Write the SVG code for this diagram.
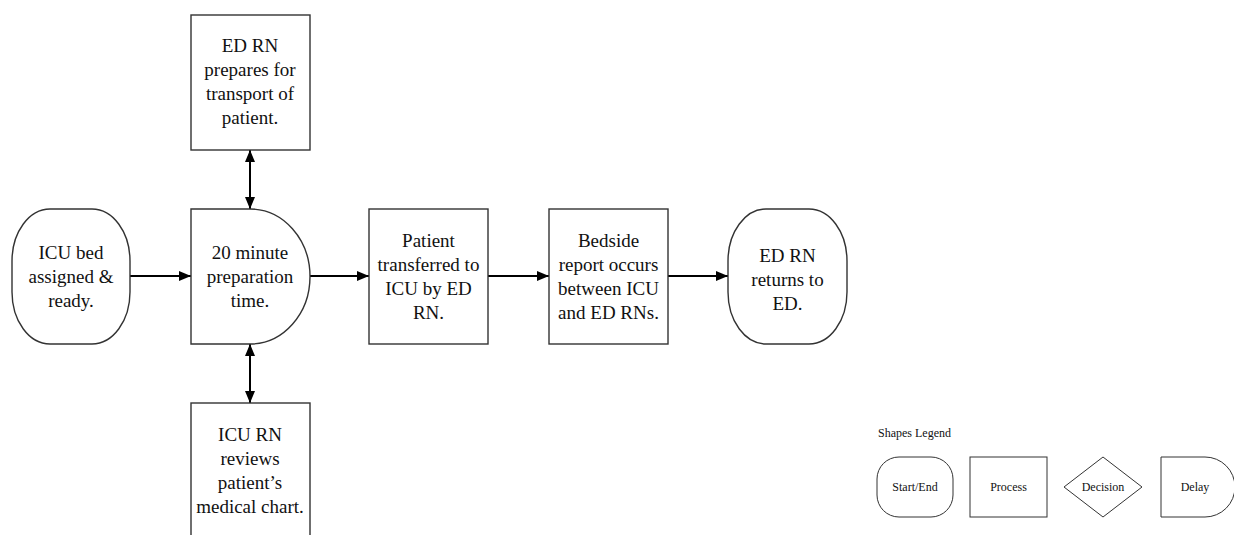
<svg xmlns="http://www.w3.org/2000/svg" width="1234" height="535" viewBox="0 0 1234 535">
<style>
.n{fill:#fff;stroke:#333;stroke-width:1.4}
.t{font-family:'Liberation Serif','DejaVu Serif',serif;font-size:19px;fill:#111;text-anchor:middle}
.s{font-family:'Liberation Serif','DejaVu Serif',serif;font-size:12px;fill:#111;text-anchor:middle}
.c{stroke:#000;stroke-width:2;fill:none}
</style>
<defs>
<marker id="ah" markerWidth="12" markerHeight="10" refX="12" refY="5" orient="auto" markerUnits="userSpaceOnUse"><path d="M0,0 L12,5 L0,10 Z" fill="#000"/></marker>
<marker id="as" markerWidth="12" markerHeight="10" refX="0" refY="5" orient="auto" markerUnits="userSpaceOnUse"><path d="M12,0 L0,5 L12,10 Z" fill="#000"/></marker>
</defs>
<rect width="1234" height="535" fill="#fff"/>
<g id="connectors">
<line class="c" x1="130" y1="276" x2="191" y2="276" marker-end="url(#ah)"/>
<line class="c" x1="310" y1="276" x2="369" y2="276" marker-end="url(#ah)"/>
<line class="c" x1="488" y1="276" x2="549" y2="276" marker-end="url(#ah)"/>
<line class="c" x1="668" y1="276" x2="728" y2="276" marker-end="url(#ah)"/>
<line class="c" x1="250" y1="150" x2="250" y2="209" marker-start="url(#as)" marker-end="url(#ah)"/>
<line class="c" x1="250" y1="344" x2="250" y2="403" marker-start="url(#as)" marker-end="url(#ah)"/>
</g>
<g id="start">
<rect class="n" x="12" y="209" width="118" height="135" rx="38" ry="52"/>
<text class="t" font-family="Liberation Serif" x="71" y="259">ICU bed</text>
<text class="t" x="71" y="283">assigned &amp;</text>
<text class="t" x="71" y="307">ready.</text>
</g>
<g id="delay">
<path class="n" d="M191,209 H250 A60,67.5 0 0 1 250,344 H191 Z"/>
<text class="t" x="250" y="259">20 minute</text>
<text class="t" x="250" y="283">preparation</text>
<text class="t" x="250" y="307">time.</text>
</g>
<g id="edprep">
<rect class="n" x="191" y="15" width="119" height="135"/>
<text class="t" x="250" y="52">ED RN</text>
<text class="t" x="250" y="76">prepares for</text>
<text class="t" x="250" y="100">transport of</text>
<text class="t" x="250" y="124">patient.</text>
</g>
<g id="icureview">
<rect class="n" x="191" y="403" width="119" height="140"/>
<text class="t" x="250" y="441">ICU RN</text>
<text class="t" x="250" y="465">reviews</text>
<text class="t" x="250" y="489">patient’s</text>
<text class="t" x="250" y="513">medical chart.</text>
</g>
<g id="transfer">
<rect class="n" x="369" y="209" width="119" height="135"/>
<text class="t" x="428.5" y="247">Patient</text>
<text class="t" x="428.5" y="271">transferred to</text>
<text class="t" x="428.5" y="295">ICU by ED</text>
<text class="t" x="428.5" y="319">RN.</text>
</g>
<g id="bedside">
<rect class="n" x="549" y="209" width="119" height="135"/>
<text class="t" x="608.5" y="247">Bedside</text>
<text class="t" x="608.5" y="271">report occurs</text>
<text class="t" x="608.5" y="295">between ICU</text>
<text class="t" x="608.5" y="319">and ED RNs.</text>
</g>
<g id="end">
<rect class="n" x="728" y="209" width="119" height="135" rx="38" ry="52"/>
<text class="t" x="787.5" y="262">ED RN</text>
<text class="t" x="787.5" y="286">returns to</text>
<text class="t" x="787.5" y="310">ED.</text>
</g>
<g id="legend">
<text class="s" style="text-anchor:start" x="878" y="437">Shapes Legend</text>
<rect class="n" x="877" y="457" width="76" height="60" rx="22" ry="22" style="stroke-width:1"/>
<text class="s" x="915" y="491">Start/End</text>
<rect class="n" x="970" y="457" width="77" height="60" style="stroke-width:1"/>
<text class="s" x="1008.5" y="491">Process</text>
<path class="n" d="M1103,457 L1142,487 L1103,517 L1064,487 Z" style="stroke-width:1"/>
<text class="s" x="1103" y="491">Decision</text>
<path class="n" d="M1161,457 H1205 A30,30 0 0 1 1205,517 H1161 Z" style="stroke-width:1"/>
<text class="s" x="1195" y="491">Delay</text>
</g>
</svg>
